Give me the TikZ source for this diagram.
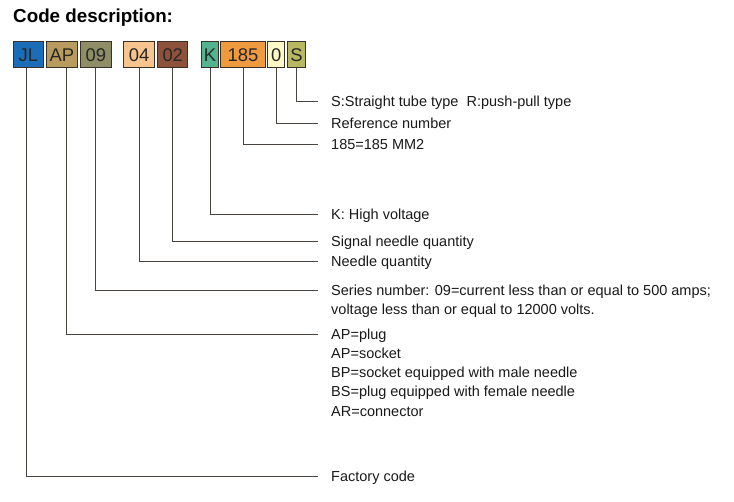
\documentclass[tikz,border=0pt]{standalone}
\usepackage{fontspec}
\setmainfont{Liberation Sans}
\usetikzlibrary{positioning}
\definecolor{cfac}{HTML}{1A6DB6}
\definecolor{ckind}{HTML}{B99B5E}
\definecolor{cser}{HTML}{8F8D65}
\definecolor{cndl}{HTML}{F6C48C}
\definecolor{csig}{HTML}{8C523B}
\definecolor{cvolt}{HTML}{52B38E}
\definecolor{csec}{HTML}{F09A3F}
\definecolor{cref}{HTML}{FCF8C8}
\definecolor{ctube}{HTML}{B8B762}
\definecolor{edge}{HTML}{3A302A}
\definecolor{wirec}{HTML}{4A4440}
\tikzset{
  code/.style={draw=edge,line width=0.9pt,anchor=west,inner sep=0pt,
    minimum height=26pt,text height=13.3pt,text depth=0pt,text=black!85,
    font=\fontsize{18.4}{18.4}\selectfont},
  wire/.style={draw=wirec,line width=0.9pt},
  desc/.style={below right=-5.4pt and 13pt of #1,inner sep=0pt,align=left,
    text=black!90,font=\fontsize{14.5}{19.2}\selectfont}
}
\begin{document}
\begin{tikzpicture}[x=1pt,y=-1pt]
\useasboundingbox (0,0) rectangle (734,501);
\node[anchor=base west,inner sep=0pt,font=\fontsize{18.8}{18.8}\selectfont\bfseries] (title) at (13,22) {Code description:};
% code boxes
\node[code,fill=cfac,minimum width=30.6pt] (fac) at (12.7,54.5) {JL};
\node[code,fill=ckind,minimum width=30.7pt] (kind) at (46,54.5) {AP};
\node[code,fill=cser,minimum width=30.7pt] (ser) at (80,54.5) {09};
\node[code,fill=cndl,minimum width=30.7pt] (ndl) at (123.3,54.5) {04};
\node[code,fill=csig,minimum width=30pt] (sig) at (157.3,54.5) {02};
\node[code,fill=cvolt,minimum width=17.6pt] (volt) at (200.7,54.5) {K};
\node[code,fill=csec,minimum width=45pt] (sec) at (220,54.5) {185};
\node[code,fill=cref,minimum width=17pt] (ref) at (267.3,54.5) {0};
\node[code,fill=ctube,minimum width=18.6pt] (tube) at (286.7,54.5) {S};
% ends of the leader lines
\coordinate (etube) at (318,101.5);
\coordinate (eref) at (318,123);
\coordinate (esec) at (318,144.5);
\coordinate (evolt) at (318,214);
\coordinate (esig) at (318,241);
\coordinate (endl) at (318,261.5);
\coordinate (eser) at (318,290);
\coordinate (ekind) at (318,334);
\coordinate (efac) at (318,476);
% descriptions
\node[desc=etube] (dtube) {S:Straight tube type\ \ R:push-pull type};
\node[desc=eref] (dref) {Reference number};
\node[desc=esec] (dsec) {185=185 MM2};
\node[desc=evolt] (dvolt) {K: High voltage};
\node[desc=esig] (dsig) {Signal needle quantity};
\node[desc=endl] (dndl) {Needle quantity};
\node[desc=eser] (dser) {Series number: 09=current less than or equal to 500 amps;\\voltage less than or equal to 12000 volts.};
\node[desc=ekind] (dkind) {AP=plug\\AP=socket\\BP=socket equipped with male needle\\BS=plug equipped with female needle\\AR=connector};
\node[desc=efac] (dfac) {Factory code};
% leaders
\draw[wire] (tube.south) |- (etube);
\draw[wire] (ref.south) |- (eref);
\draw[wire] (sec.south) |- (esec);
\draw[wire] (volt.south) |- (evolt);
\draw[wire] (sig.south) |- (esig);
\draw[wire] (ndl.south) |- (endl);
\draw[wire] (ser.south) |- (eser);
\draw[wire] ([xshift=4.3pt]kind.south) |- (ekind);
\draw[wire] ([xshift=-2pt]fac.south) |- (efac);
\end{tikzpicture}
\end{document}
